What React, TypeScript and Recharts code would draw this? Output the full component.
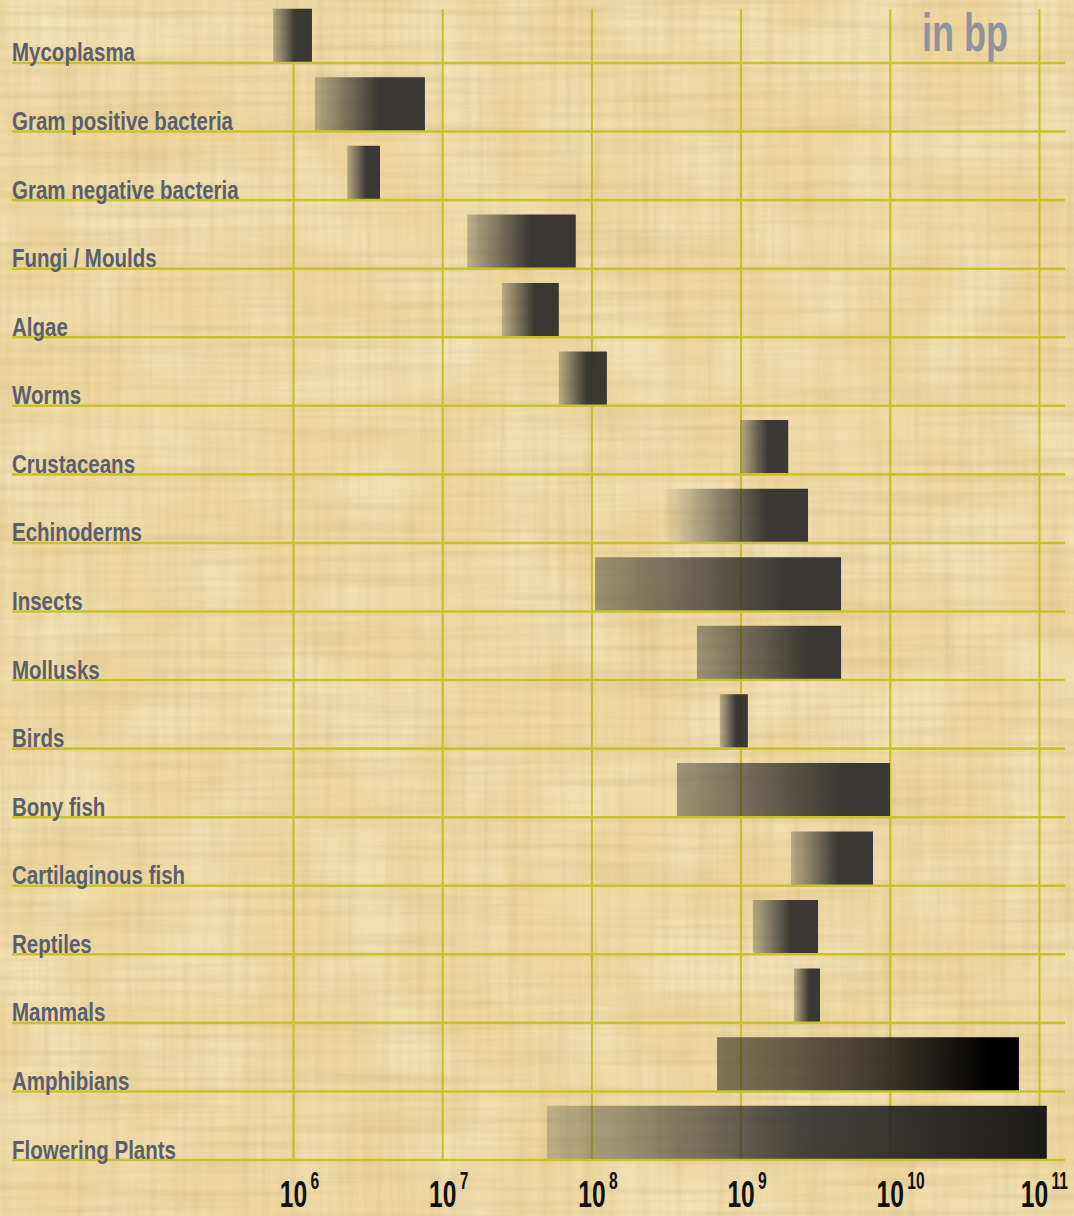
import React from 'react';
import { BarChart, Bar, XAxis, YAxis, CartesianGrid, Cell } from 'recharts';

const categories = [
  'Mycoplasma',
  'Gram positive bacteria',
  'Gram negative bacteria',
  'Fungi / Moulds',
  'Algae',
  'Worms',
  'Crustaceans',
  'Echinoderms',
  'Insects',
  'Mollusks',
  'Birds',
  'Bony fish',
  'Cartilaginous fish',
  'Reptiles',
  'Mammals',
  'Amphibians',
  'Flowering Plants',
];

const genomeMinBp = [
  7.3e5, 1.39e6, 2.29e6, 1.46e7, 2.5e7, 6.0e7, 9.85e8, 3.0e8, 1.05e8,
  5.06e8, 7.2e8, 3.72e8, 2.16e9, 1.2e9, 2.26e9, 6.9e8, 5.0e7,
];

const genomeMaxBp = [
  1.33e6, 7.6e6, 3.8e6, 7.8e7, 6.0e7, 1.26e8, 2.07e9, 2.81e9, 4.68e9,
  4.68e9, 1.11e9, 9.95e9, 7.66e9, 3.28e9, 3.38e9, 7.28e10, 1.12e11,
];

const tickValues = [1e6, 1e7, 1e8, 1e9, 1e10, 1e11];
const unitLabel = 'in bp';

const data = categories.map((name, i) => ({
  name,
  range: [genomeMinBp[i], genomeMaxBp[i]],
}));

const gradientByName: Record<string, string> = {
  Echinoderms: 'gSoft',
  Insects: 'gWide',
  Mollusks: 'gWide',
  'Bony fish': 'gWide',
  Amphibians: 'gAmph',
  'Flowering Plants': 'gPlant',
};

const FONT = "'Liberation Sans', Arial, Helvetica, sans-serif";

function CategoryTick(props: any) {
  const { y, payload } = props;
  const lineY = y + 27;
  return (
    <g>
      <line x1={12} x2={1065} y1={lineY} y2={lineY} stroke="#c9c22a" strokeWidth={2.6} />
      <text
        transform={`translate(12,${lineY - 1.5}) scale(0.82,1.04)`}
        fill="#5a5f6b"
        fontFamily={FONT}
        fontWeight="bold"
        fontSize={25}
        textAnchor="start"
      >
        {payload.value}
      </text>
    </g>
  );
}

function PowerTick(props: any) {
  const { x, y, payload } = props;
  const v = payload.value as number;
  const exp = String(Math.round(Math.log10(v)));
  const isLast = v === tickValues[tickValues.length - 1];
  const cx = x + (isLast ? -5 : 0);
  const base = y + 32;
  return (
    <g>
      <text
        transform={`translate(${cx},${base}) scale(0.82,1.2)`}
        textAnchor="middle"
        fontFamily={FONT}
        fontWeight="bold"
        fontSize={30}
        fill="#111"
      >
        10
      </text>
      <text
        transform={`translate(${cx + 17},${base - 18}) scale(0.82,1.25)`}
        textAnchor="start"
        fontFamily={FONT}
        fontWeight="bold"
        fontSize={19}
        fill="#111"
      >
        {exp}
      </text>
    </g>
  );
}

function Background() {
  return (
    <svg width={1074} height={1216} style={{ position: 'absolute', left: 0, top: 0 }}>
      <defs>
        <filter id="fibH" x="0" y="0" width="100%" height="100%">
          <feTurbulence type="fractalNoise" baseFrequency="0.004 0.12" numOctaves={3} seed={2} />
          <feColorMatrix type="matrix" values="0 0 0 0 0.6  0 0 0 0 0.45  0 0 0 0 0.2  1.1 0 0 0 -0.45" />
        </filter>
        <filter id="fibV" x="0" y="0" width="100%" height="100%">
          <feTurbulence type="fractalNoise" baseFrequency="0.12 0.004" numOctaves={3} seed={7} />
          <feColorMatrix type="matrix" values="0 0 0 0 0.6  0 0 0 0 0.45  0 0 0 0 0.2  1.1 0 0 0 -0.45" />
        </filter>
        <filter id="blot" x="0" y="0" width="100%" height="100%">
          <feTurbulence type="fractalNoise" baseFrequency="0.012" numOctaves={2} seed={5} />
          <feColorMatrix type="matrix" values="0 0 0 0 1  0 0 0 0 0.96  0 0 0 0 0.82  1.3 0 0 0 -0.5" />
        </filter>
      </defs>
      <rect width={1074} height={1216} fill="#eed7a0" />
      <rect width={1074} height={1216} fill="#fff" filter="url(#blot)" opacity={0.6} />
      <rect width={1074} height={1216} fill="#fff" filter="url(#fibH)" opacity={0.6} />
      <rect width={1074} height={1216} fill="#fff" filter="url(#fibV)" opacity={0.5} />
    </svg>
  );
}

export default function App() {
  return (
    <div style={{ position: 'absolute', left: 0, top: 0, width: 1074, height: 1216 }}>
      <Background />
      <div style={{ position: 'absolute', left: 0, top: 0 }}>
        <BarChart
          width={1074}
          height={1216}
          data={data}
          layout="vertical"
          margin={{ top: 1.7, right: 9, bottom: 8.7, left: 0 }}
          barCategoryGap={0}
        >
          <defs>
            <linearGradient id="gDef" x1="0" y1="0" x2="1" y2="0">
              <stop offset="0" stopColor="#2a2a2a" stopOpacity={0.25} />
              <stop offset="0.58" stopColor="#2a2a2a" stopOpacity={0.92} />
              <stop offset="1" stopColor="#2a2a2a" stopOpacity={0.92} />
            </linearGradient>
            <linearGradient id="gSoft" x1="0" y1="0" x2="1" y2="0">
              <stop offset="0" stopColor="#2a2a2a" stopOpacity={0} />
              <stop offset="0.72" stopColor="#2a2a2a" stopOpacity={0.92} />
              <stop offset="1" stopColor="#2a2a2a" stopOpacity={0.92} />
            </linearGradient>
            <linearGradient id="gWide" x1="0" y1="0" x2="1" y2="0">
              <stop offset="0" stopColor="#2a2a2a" stopOpacity={0.4} />
              <stop offset="0.78" stopColor="#2a2a2a" stopOpacity={0.92} />
              <stop offset="1" stopColor="#2a2a2a" stopOpacity={0.92} />
            </linearGradient>
            <linearGradient id="gAmph" x1="0" y1="0" x2="1" y2="0">
              <stop offset="0" stopColor="#3a3426" stopOpacity={0.6} />
              <stop offset="0.5" stopColor="#2e2a22" stopOpacity={0.88} />
              <stop offset="0.9" stopColor="#000" stopOpacity={1} />
              <stop offset="1" stopColor="#000" stopOpacity={1} />
            </linearGradient>
            <linearGradient id="gPlant" x1="0" y1="0" x2="1" y2="0">
              <stop offset="0" stopColor="#2a2a2a" stopOpacity={0.22} />
              <stop offset="0.5" stopColor="#2a2a2a" stopOpacity={0.85} />
              <stop offset="1" stopColor="#141414" stopOpacity={0.97} />
            </linearGradient>
          </defs>
          <CartesianGrid
            horizontal={false}
            stroke="#c5bf28"
            strokeWidth={2}
            y={9}
            height={1151}
            syncWithTicks
          />
          <XAxis
            type="number"
            scale="log"
            domain={[1e5, 1.483e11]}
            ticks={tickValues}
            allowDataOverflow
            axisLine={false}
            tickLine={false}
            tick={<PowerTick />}
            height={40}
            interval={0}
          />
          <YAxis
            type="category"
            dataKey="name"
            width={144.3}
            axisLine={false}
            tickLine={false}
            tick={<CategoryTick />}
            interval={0}
          />
          <Bar dataKey="range" barSize={54} isAnimationActive={false}>
            {data.map((d) => (
              <Cell key={d.name} fill={`url(#${gradientByName[d.name] || 'gDef'})`} />
            ))}
          </Bar>
          <text
            transform="translate(922,51) scale(0.82,1.22)"
            fontFamily={FONT}
            fontWeight="bold"
            fontSize={44}
            fill="#8f949e"
          >
            {unitLabel}
          </text>
        </BarChart>
      </div>
    </div>
  );
}
